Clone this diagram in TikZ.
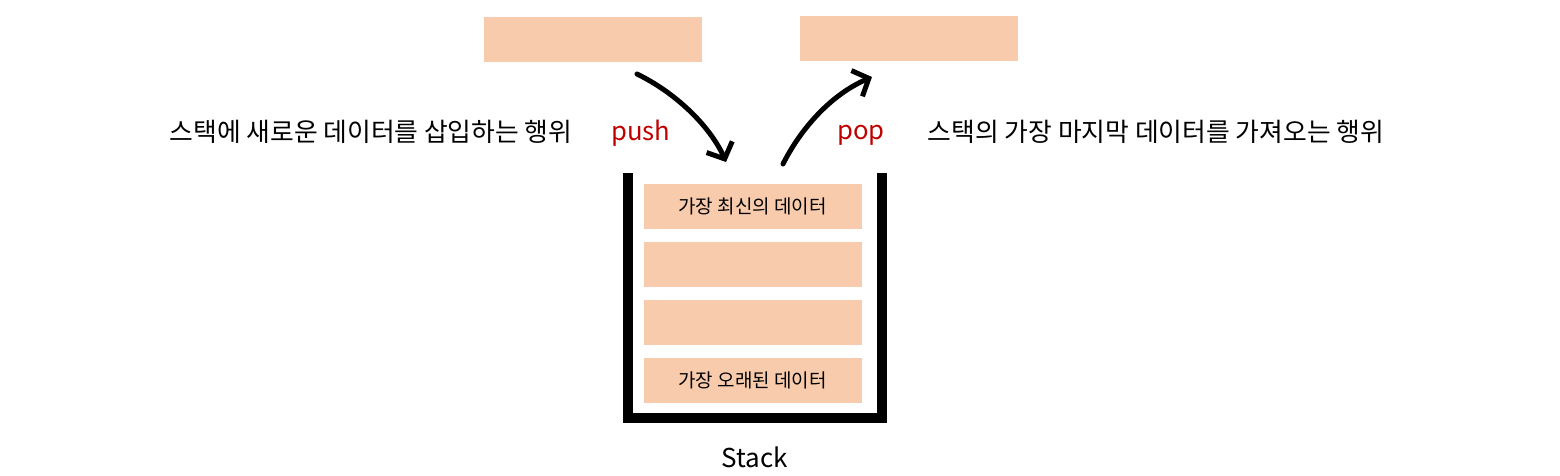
\documentclass[tikz,border=0pt]{standalone}
\usepackage{fontspec}
\setmainfont{Noto Sans CJK KR}
\usetikzlibrary{arrows.meta}
\definecolor{boxfill}{HTML}{F8CBAD}
\definecolor{lbl}{HTML}{C00000}
\tikzset{
  pbox/.style={fill=boxfill, draw=none, minimum width=218pt, minimum height=45pt, inner sep=0pt, font=\fontsize{19}{22}\selectfont},
  wall/.style={line width=10pt, line cap=butt, line join=miter},
  arr/.style={line width=5pt, line cap=round, -{Straight Barb[length=13pt,width=28pt,line width=5pt]}},
  desc/.style={font=\fontsize{25.8}{30}\selectfont, inner sep=0pt},
  oplbl/.style={font=\fontsize{25.7}{30}\selectfont, text=lbl, inner sep=0pt}
}
\begin{document}
\begin{tikzpicture}[x=1pt,y=-1pt]
\useasboundingbox (0,0) rectangle (1560,475);
\node[pbox] (inbox) at (593,39.5) {};
\node[pbox] (outbox) at (909,38.5) {};
\node[pbox] (s1) at (752.5,206.5) {가장 최신의 데이터};
\node[pbox] (s2) at (752.5,264.5) {};
\node[pbox] (s3) at (752.5,322.5) {};
\node[pbox] (s4) at (752.5,380.5) {가장 오래된 데이터};
\coordinate (wl) at (628,173);
\coordinate (wr) at (882,173);
\draw[wall] (wl) -- (628,418) -- (882,418) -- (wr);
\node[font=\fontsize{26}{30}\selectfont, inner sep=0pt] (stk) at (755,457) {Stack};
\node[desc] (pushd) at (371,132) {스택에 새로운 데이터를 삽입하는 행위};
\node[desc] (popd) at (1156,132) {스택의 가장 마지막 데이터를 가져오는 행위};
\node[oplbl] (pushl) at (641,133) {push};
\node[oplbl] (popl) at (861,135) {pop};
\coordinate (pushs) at (637,74);
\coordinate (pushe) at (726,162);
\coordinate (pops) at (783,164);
\coordinate (pope) at (872,77);
\draw[arr] (pushs) .. controls (680,95) and (712,130) .. (pushe);
\draw[arr] (pops) .. controls (800,130) and (830,95) .. (pope);
\end{tikzpicture}
\end{document}
